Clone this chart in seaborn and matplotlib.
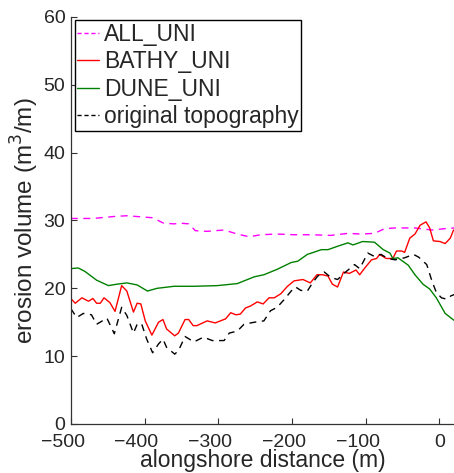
import matplotlib
matplotlib.use("Agg")
import matplotlib.pyplot as plt
import matplotlib.transforms as mtransforms
import seaborn as sns
import numpy as np

# ---- data ----
all_x = [-500, -470, -440, -424, -400, -389, -374, -360, -351, -340, -331, -315, -292, -274,
         -258, -242, -220, -197, -174, -147, -124, -106, -88, -74, -60, -33, -10, 8, 21]
all_y = [30.3, 30.3, 30.6, 30.7, 30.5, 30.4, 29.6, 29.5, 29.6, 29.5, 28.5, 28.4, 28.6, 28.0,
         27.6, 27.9, 28.0, 27.9, 27.9, 27.8, 28.1, 28.0, 28.1, 28.8, 28.9, 28.9, 28.6, 28.8, 28.9]

bathy_x = [-500, -494, -485, -476, -470, -465, -460, -455, -447, -440, -431, -424, -415, -410,
           -405, -399, -390, -381, -375, -370, -359, -354, -345, -340, -334, -329, -315, -304,
           -297, -290, -283, -276, -270, -263, -256, -247, -239, -231, -224, -215, -206, -197,
           -185, -175, -166, -158, -151, -145, -138, -130, -122, -113, -108, -101, -92, -85,
           -81, -72, -63, -58, -51, -47, -40, -33, -26, -18, -13, -8, 1, 8, 15, 19, 21]
bathy_y = [18.5, 17.8, 18.6, 18.1, 18.5, 17.8, 17.8, 18.6, 17.9, 16.6, 20.4, 19.6, 16.5, 17.8,
           17.7, 15.2, 13.1, 15.0, 15.4, 14.0, 13.0, 13.4, 15.4, 15.4, 14.5, 14.5, 15.2, 14.9,
           15.2, 15.5, 16.4, 16.1, 16.2, 17.1, 17.4, 18.0, 17.7, 18.6, 18.6, 19.2, 20.3, 21.1,
           21.3, 20.8, 22.0, 22.0, 21.8, 20.6, 20.2, 22.4, 22.2, 22.7, 22.0, 23.0, 24.2, 24.4,
           25.0, 24.4, 24.4, 25.5, 25.5, 25.3, 27.4, 28.0, 29.3, 29.8, 28.9, 27.0, 26.9, 26.6,
           27.4, 28.5, 28.7]

dune_x = [-500, -490, -481, -465, -449, -438, -424, -410, -396, -383, -360, -333, -301, -274,
          -251, -238, -220, -201, -192, -179, -160, -151, -138, -124, -117, -104, -88, -76,
          -67, -63, -56, -42, -33, -22, -13, -4, 8, 21]
dune_y = [22.9, 23.0, 22.5, 21.2, 20.4, 20.6, 20.8, 20.5, 19.6, 20.0, 20.3, 20.3, 20.4, 20.7,
          21.7, 22.0, 22.8, 23.8, 24.0, 25.0, 25.7, 25.7, 26.2, 26.7, 26.4, 26.9, 26.8, 25.7,
          25.2, 24.4, 24.5, 23.4, 22.0, 20.6, 19.9, 18.6, 16.3, 15.2]

orig_x = [-500, -492, -483, -472, -465, -451, -441, -431, -424, -415, -410, -404, -397, -389,
          -381, -375, -370, -359, -354, -345, -333, -320, -308, -292, -285, -274, -265, -251,
          -238, -229, -220, -210, -201, -195, -188, -179, -172, -165, -156, -147, -138, -126,
          -115, -108, -97, -88, -79, -70, -60, -47, -35, -28, -17, -10, -4, 3, 10, 16, 21]
orig_y = [17.0, 15.7, 16.3, 16.1, 14.7, 15.6, 13.3, 17.2, 16.0, 13.4, 14.7, 14.8, 12.5, 10.5,
          11.8, 12.5, 11.3, 10.3, 10.8, 12.9, 12.1, 12.8, 12.3, 12.3, 13.4, 13.7, 14.7, 15.0,
          15.2, 16.7, 17.2, 18.4, 19.6, 20.2, 19.7, 19.6, 20.8, 21.8, 22.4, 21.6, 21.3, 22.5,
          23.5, 22.9, 25.2, 24.7, 25.0, 24.4, 24.2, 24.5, 25.0, 24.6, 23.5, 21.1, 19.4, 18.6,
          18.4, 18.9, 19.1]

labels = ["ALL_UNI", "BATHY_UNI", "DUNE_UNI", "original topography"]
xticks = [-500, -400, -300, -200, -100, 0]
yticks = [0, 10, 20, 30, 40, 50, 60]

# ---- style ----
sns.set_style("ticks")
plt.rcParams["font.family"] = ["Liberation Sans", "DejaVu Sans"]
plt.rcParams["xtick.direction"] = "in"
plt.rcParams["ytick.direction"] = "in"

fig = plt.figure(figsize=(4.54, 4.73), dpi=100)
ax = fig.add_axes([0.156, 0.1036, 0.844, 0.8605])

sns.lineplot(x=all_x, y=all_y, ax=ax, color=(1, 0, 1), lw=1.0, label=labels[0]
             ).lines[-1].set_dashes([5, 4])
sns.lineplot(x=bathy_x, y=bathy_y, ax=ax, color=(1, 0, 0), lw=1.0, label=labels[1])
sns.lineplot(x=dune_x, y=dune_y, ax=ax, color=(0, 0.5, 0), lw=1.0, label=labels[2])
sns.lineplot(x=orig_x, y=orig_y, ax=ax, color="black", lw=1.0, label=labels[3]
             ).lines[-1].set_dashes([5, 4])

ax.set_xlim(-500, 20)
ax.set_ylim(0, 60)
ax.set_xticks(xticks)
ax.set_yticks(yticks)
ax.tick_params(axis="both", labelsize=14, length=4, width=0.8, color="#333333")
ax.tick_params(axis="x", pad=7)
ax.tick_params(axis="y", pad=4)
for s in ["left", "bottom"]:
    ax.spines[s].set_linewidth(0.9)
    ax.spines[s].set_color("#333333")
sns.despine(ax=ax)

# negative labels: centre the digits on the tick (minus hangs to the left)
offset = mtransforms.ScaledTranslation(-8 / 100, 0, fig.dpi_scale_trans)
for v, lab in zip(xticks, ax.get_xticklabels()):
    if v < 0:
        lab.set_transform(lab.get_transform() + offset)

ax.set_xlabel("alongshore distance (m)", fontsize=16.5, labelpad=-1)
ax.set_ylabel("erosion volume (m$^3$/m)", fontsize=17.5, labelpad=2)

leg = ax.legend(loc="upper left", bbox_to_anchor=(0.01, 0.993), borderaxespad=0,
                fontsize=16.5, frameon=True, fancybox=False, handlelength=0.95,
                handletextpad=0.2, labelspacing=0.2, borderpad=0.12)
leg.get_frame().set_edgecolor("black")
leg.get_frame().set_linewidth(1.0)
leg.get_frame().set_alpha(1)
for h in leg.get_lines():
    h.set_linewidth(1.0)
leg.get_lines()[0].set_dashes([3, 2])
leg.get_lines()[3].set_dashes([3, 2])

fig.savefig("out.png", dpi=100)
